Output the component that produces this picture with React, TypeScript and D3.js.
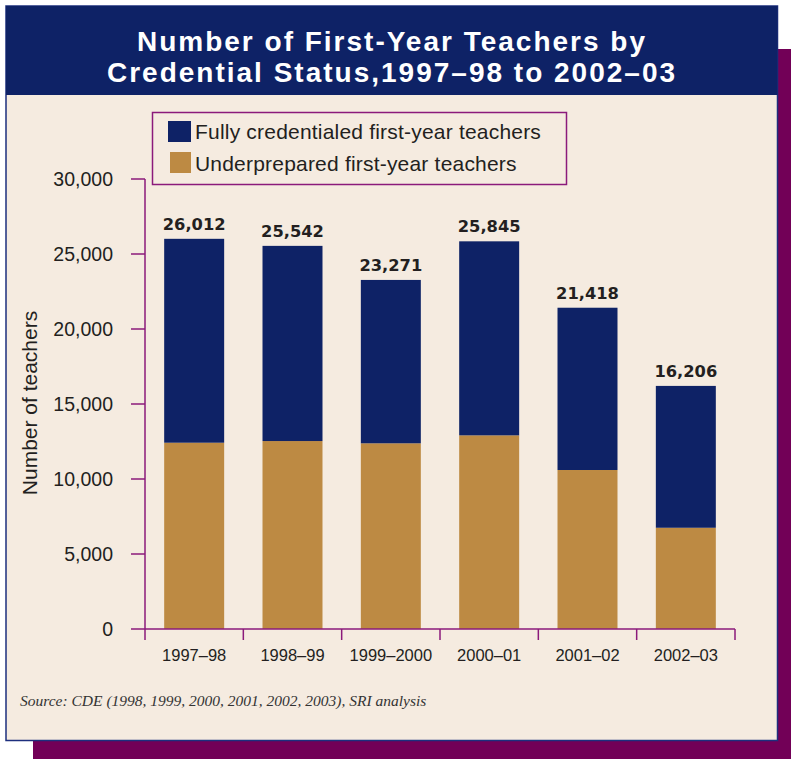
import React from "react";
import * as d3 from "d3";

const categories = ["1997–98", "1998–99", "1999–2000", "2000–01", "2001–02", "2002–03"];
const totals = [26012, 25542, 23271, 25845, 21418, 16206];
const underprepared = [12420, 12530, 12380, 12910, 10600, 6750];
const fullyCredentialed = [13592, 13012, 10891, 12935, 10818, 9456];
const yTicks = [0, 5000, 10000, 15000, 20000, 25000, 30000];
const seriesNames = ["Fully credentialed first-year teachers", "Underprepared first-year teachers"];

const W = 791;
const H = 759;
const NAVY = "#0e2266";
const TAN = "#bd8a43";
const BG = "#f5ebe0";
const SHADOW = "#720057";
const AXIS = "#8b1a7b";
const TEXT = "#231f20";

export default function App() {
  const x = d3.scaleBand<string>().domain(categories).range([145, 735]).paddingInner(0.39).paddingOuter(0.195);
  const y = d3.scaleLinear().domain([0, 30000]).range([629, 179]);
  const fmt = d3.format(",");
  const step = x.step();
  const boundaries = d3.range(categories.length + 1).map((i) => 145 + i * step);

  return (
    <svg width={W} height={H} style={{ position: "absolute", left: 0, top: 0 }} fontFamily="'Liberation Sans', Arial, sans-serif">
      <rect x={0} y={0} width={W} height={H} fill="#ffffff" />
      {/* shadow */}
      <rect x={33} y={49} width={W - 33} height={H - 49} fill={SHADOW} />
      {/* panel */}
      <rect x={6} y={6} width={771.5} height={734.5} fill={BG} stroke="#1d2f7e" strokeWidth={1.5} />
      <rect x={6} y={6} width={771.5} height={89} fill={NAVY} />
      <text x={392} y={51} textAnchor="middle" fill="#ffffff" fontSize={28} fontWeight="bold" letterSpacing={2}>
        Number of First-Year Teachers by
      </text>
      <text x={392} y={82} textAnchor="middle" fill="#ffffff" fontSize={28} fontWeight="bold" letterSpacing={2}>
        Credential Status,1997–98 to 2002–03
      </text>

      {/* legend */}
      <rect x={152.5} y={112.5} width={414} height={72} fill="none" stroke={AXIS} strokeWidth={1.5} />
      <rect x={168} y={121} width={23} height={21} fill={NAVY} />
      <rect x={170} y={152} width={21} height={21} fill={TAN} />
      <text x={195} y={139} fontSize={21} letterSpacing={0.2} fill={TEXT}>{seriesNames[0]}</text>
      <text x={195} y={171} fontSize={21} letterSpacing={0.2} fill={TEXT}>{seriesNames[1]}</text>

      {/* bars */}
      {categories.map((c, i) => {
        const bx = x(c) as number;
        const bw = x.bandwidth();
        return (
          <g key={c}>
            <rect x={bx} y={y(underprepared[i])} width={bw} height={y(0) - y(underprepared[i])} fill={TAN} />
            <rect
              x={bx}
              y={y(underprepared[i] + fullyCredentialed[i])}
              width={bw}
              height={y(underprepared[i]) - y(underprepared[i] + fullyCredentialed[i])}
              fill={NAVY}
            />
            <text
              x={bx + bw / 2}
              y={y(totals[i]) - 9}
              textAnchor="middle"
              fontFamily="'DejaVu Sans', sans-serif"
              fontWeight="bold"
              fontSize={16.3}
              fill={TEXT}
            >
              {fmt(totals[i])}
            </text>
            <text x={bx + bw / 2} y={661} textAnchor="middle" fontSize={16.5} fill={TEXT}>
              {c}
            </text>
          </g>
        );
      })}

      {/* y axis */}
      <line x1={145} x2={145} y1={y(30000)} y2={y(0)} stroke={AXIS} strokeWidth={1.5} />
      {yTicks.map((t) => (
        <g key={t}>
          <line x1={131} x2={145} y1={y(t)} y2={y(t)} stroke={AXIS} strokeWidth={1.5} />
          <text x={113} y={y(t)} dy="0.36em" textAnchor="end" fontSize={19.5} fill={TEXT}>
            {fmt(t)}
          </text>
        </g>
      ))}
      <text transform="translate(37,403) rotate(-90)" textAnchor="middle" fontSize={21} fill={TEXT}>
        Number of teachers
      </text>

      {/* x axis */}
      <line x1={145} x2={735} y1={y(0)} y2={y(0)} stroke={AXIS} strokeWidth={1.5} />
      {boundaries.map((b, i) => (
        <line key={i} x1={b} x2={b} y1={y(0)} y2={y(0) + 11} stroke={AXIS} strokeWidth={1.5} />
      ))}

      <text x={20} y={706} fontFamily="'Liberation Serif', 'Times New Roman', serif" fontStyle="italic" fontSize={15.5} fill="#333333">
        Source: CDE (1998, 1999, 2000, 2001, 2002, 2003), SRI analysis
      </text>
    </svg>
  );
}
